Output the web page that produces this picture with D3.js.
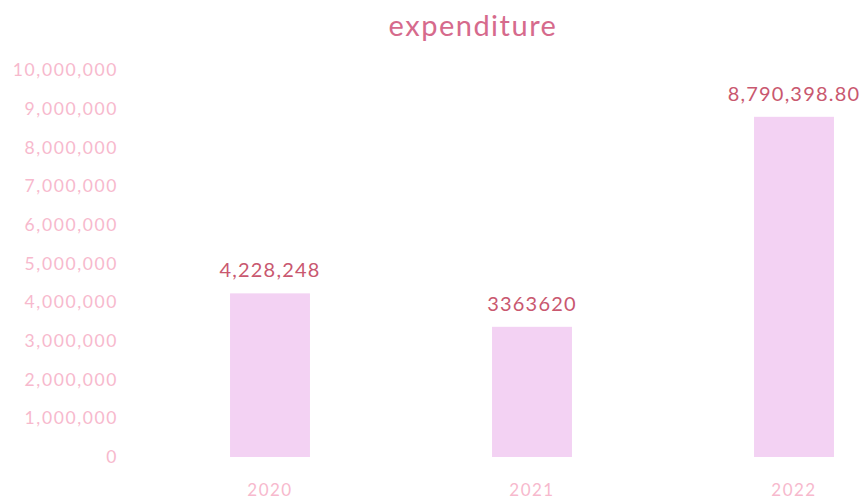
<!DOCTYPE html>
<html>
<head>
<meta charset="utf-8">
<script src="https://cdn.jsdelivr.net/npm/d3@7"></script>
<style>
  body { margin: 0; background: #fff; }
  text { font-family: Lato, "Open Sans", sans-serif; }
</style>
</head>
<body>
<svg id="chart" width="862" height="504"></svg>
<script>
// values
var years = ["2020", "2021", "2022"];
var expenditure = [4228248, 3363620, 8790398.80];
var valueLabels = ["4,228,248", "3363620", "8,790,398.80"];
var yTicks = [0, 1000000, 2000000, 3000000, 4000000, 5000000, 6000000, 7000000, 8000000, 9000000, 10000000];

var svg = d3.select("#chart");

var x = d3.scaleBand()
  .domain(years)
  .range([139, 925])
  .paddingInner(0.695)
  .paddingOuter(0.3475);

var y = d3.scaleLinear()
  .domain([0, 10000000])
  .range([457, 70]);

// title
svg.append("text")
  .attr("x", 473)
  .attr("y", 36)
  .attr("text-anchor", "middle")
  .attr("font-size", 29)
  .attr("letter-spacing", 1.5)
  .attr("fill", "#d66a8c")
  .text("expenditure");

// y axis (labels only)
var yAxis = svg.append("g")
  .attr("transform", "translate(118,0)")
  .call(d3.axisLeft(y).tickValues(yTicks).tickSize(0).tickPadding(0).tickFormat(d3.format(",")));
yAxis.select(".domain").remove();
yAxis.selectAll("text")
  .attr("font-size", 17.5)
  .attr("letter-spacing", 1.6)
  .attr("fill", "#f7b9cd")
  .style("font-family", "Lato, 'Open Sans', sans-serif");

// bars
var data = years.map((d, i) => ({year: d, value: expenditure[i], label: valueLabels[i]}));

svg.selectAll(".bar")
  .data(data)
  .enter()
  .append("rect")
  .attr("class", "bar")
  .attr("x", d => x(d.year))
  .attr("y", d => y(d.value))
  .attr("width", x.bandwidth())
  .attr("height", d => y(0) - y(d.value))
  .attr("fill", "#f3d2f3");

// value labels
svg.selectAll(".val")
  .data(data)
  .enter()
  .append("text")
  .attr("class", "val")
  .attr("x", d => x(d.year) + x.bandwidth() / 2)
  .attr("y", d => y(d.value) - 16)
  .attr("text-anchor", "middle")
  .attr("font-size", 20)
  .attr("letter-spacing", 1.2)
  .attr("fill", "#c9586f")
  .text(d => d.label);

// x axis (labels only)
var xAxis = svg.append("g")
  .attr("transform", "translate(0,481)")
  .call(d3.axisBottom(x).tickSize(0).tickPadding(0));
xAxis.select(".domain").remove();
xAxis.selectAll("text")
  .attr("dy", "0.9em")
  .attr("font-size", 17)
  .attr("letter-spacing", 1.5)
  .attr("fill", "#f7b9cd")
  .style("font-family", "Lato, 'Open Sans', sans-serif");
</script>
</body>
</html>
